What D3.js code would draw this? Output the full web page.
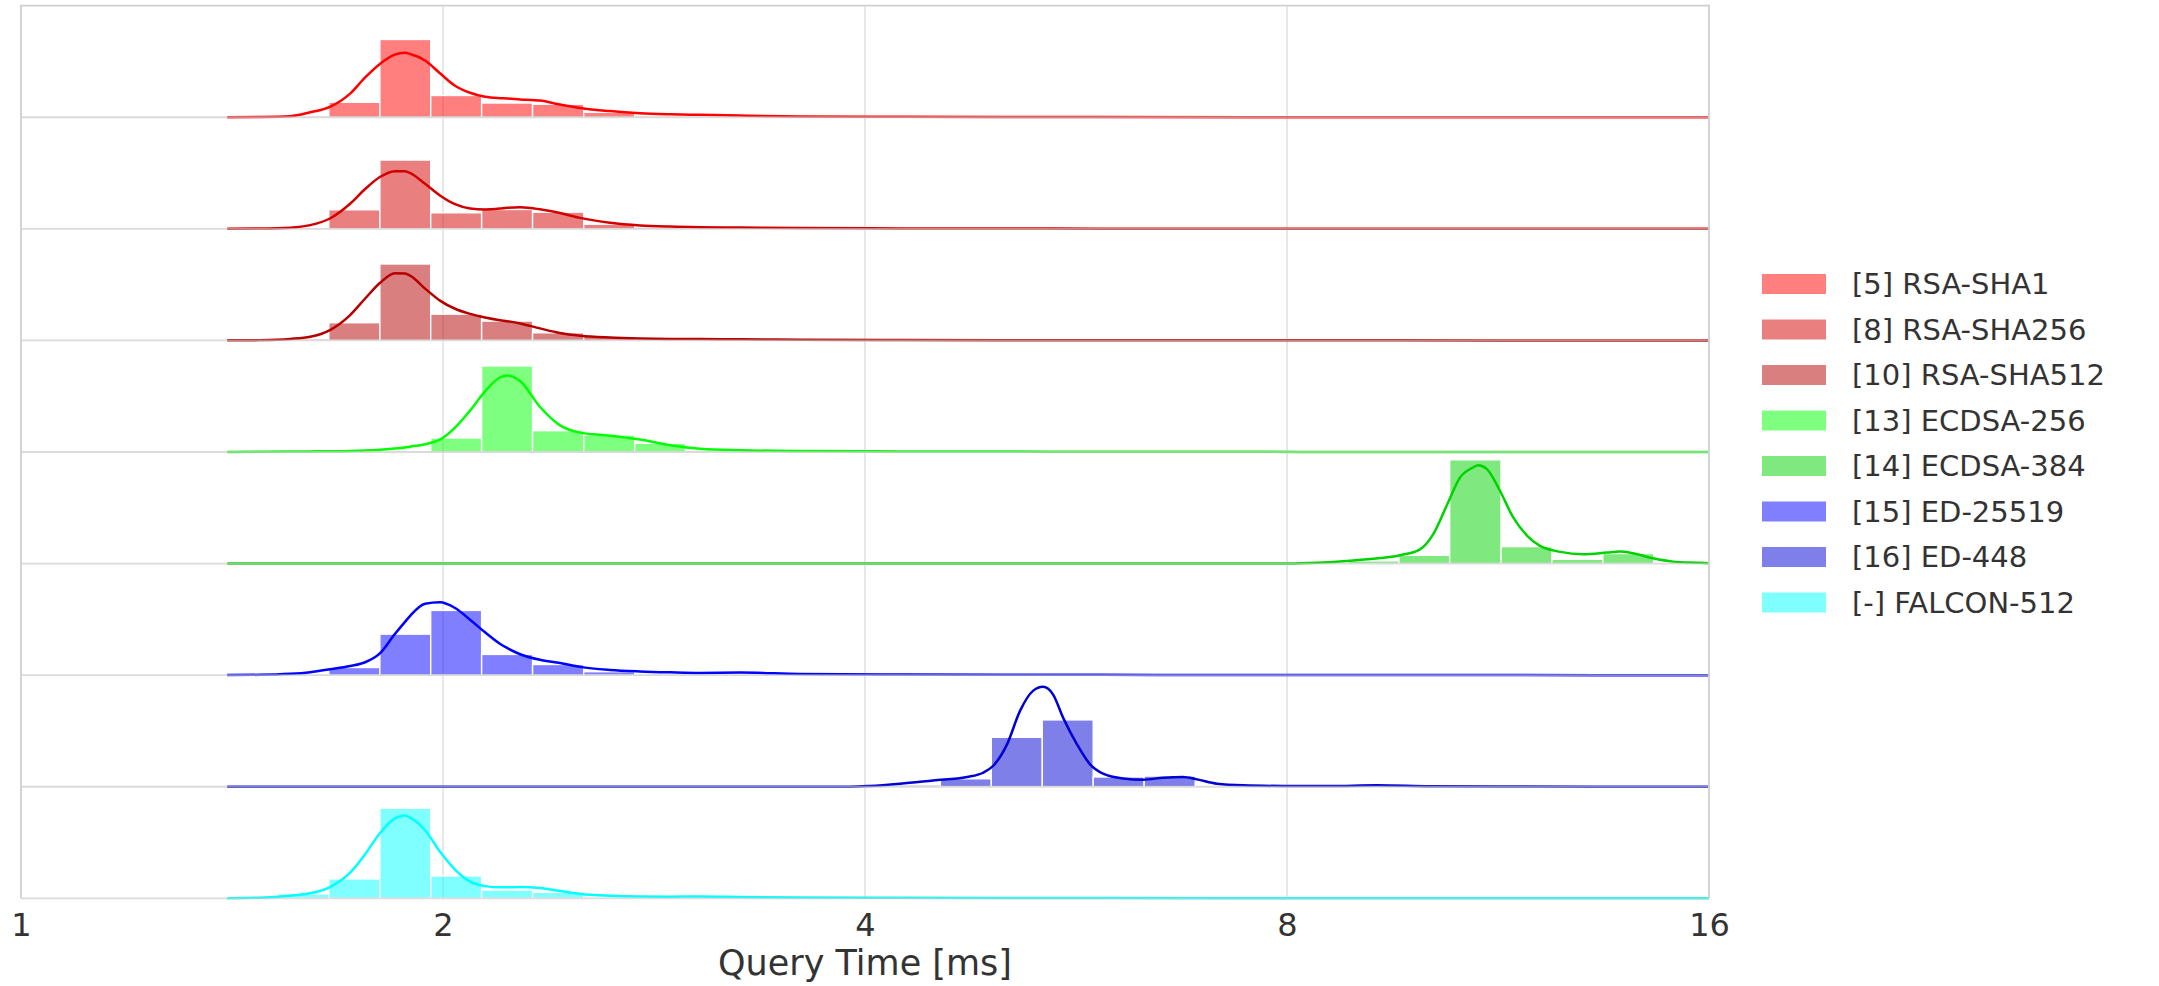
<!DOCTYPE html>
<html>
<head>
<meta charset="utf-8">
<script src="https://cdn.jsdelivr.net/npm/d3@7/dist/d3.min.js"></script>
<style>
  body { margin: 0; background: #fff; }
  svg { display: block; font-family: 'DejaVu Sans', sans-serif; }
</style>
</head>
<body>
<div class="ridge-chart-container"></div>
<script>
// series, top row first
const labels = ['[5] RSA-SHA1', '[8] RSA-SHA256', '[10] RSA-SHA512', '[13] ECDSA-256',
  '[14] ECDSA-384', '[15] ED-25519', '[16] ED-448', '[-] FALCON-512'];
const colors = ['#ff0000', '#d30000', '#b60000', '#00ff00', '#00d300', '#0000ff', '#0000d3', '#00ffff'];

const xTicks = [1, 2, 4, 8, 16];
const xLabel = 'Query Time [ms]';

// shared histogram bins (ms, log spaced)
const binEdges = [1.403, 1.525, 1.658, 1.803, 1.960, 2.131, 2.317, 2.520, 2.740, 2.979,
  3.239, 3.522, 3.829, 4.163, 4.527, 4.922, 5.352, 5.819, 6.327, 6.880,
  7.480, 8.133, 8.843, 9.615, 10.45, 11.37, 12.36, 13.44, 14.61, 15.89];

// histogram heights, percent of queries per bin
const rsaSha1Pct = [0.2, 1, 10, 51.8, 14.5, 9.5, 8.7, 3.3, 1, 0.4, 0.3, 0.2, 0.1, 0, 0, 0, 0, 0, 0, 0, 0, 0, 0, 0, 0, 0, 0, 0, 0];
const rsaSha256Pct = [0.2, 0.9, 12.7, 45.8, 10.7, 12.9, 11.1, 3.1, 1.1, 0.5, 0.4, 0.3, 0.2, 0, 0, 0, 0, 0, 0, 0, 0, 0, 0, 0, 0, 0, 0, 0, 0];
const rsaSha512Pct = [0.2, 1.1, 11.8, 50.9, 17.5, 12.9, 5.1, 2.7, 1, 0.5, 0.4, 0.3, 0.2, 0, 0, 0, 0, 0, 0, 0, 0, 0, 0, 0, 0, 0, 0, 0, 0];
const ecdsa256Pct = [0, 0.1, 0.2, 0.3, 9.3, 57.3, 14.2, 11.3, 5.8, 1, 0.5, 0.3, 0.2, 0, 0, 0, 0, 0, 0, 0, 0, 0, 0, 0, 0, 0, 0, 0, 0];
const ecdsa384Pct = [0, 0, 0, 0, 0, 0, 0, 0, 0, 0, 0, 0, 0, 0, 0, 0, 0, 0, 0, 0, 0.2, 0.5, 1.8, 5.5, 69.1, 11.3, 2.9, 6.7, 0.5];
const ed25519Pct = [0.1, 0.5, 5.1, 27.3, 43.1, 13.8, 7.1, 2.3, 0.8, 0.5, 0.4, 0.3, 0.3, 0.2, 0, 0, 0, 0, 0, 0, 0, 0, 0, 0, 0, 0, 0, 0, 0];
const ed448Pct = [0, 0, 0, 0, 0, 0, 0, 0, 0, 0, 0, 0, 0.3, 1.1, 5.3, 32.9, 44.5, 6.5, 7.1, 0.7, 0.4, 0.3, 0.2, 0.2, 0, 0, 0, 0, 0];
const falconPct = [0.3, 2.9, 12.9, 60, 14.9, 5.5, 4, 1, 0.5, 0.4, 0.3, 0.2, 0, 0, 0, 0, 0, 0, 0, 0, 0, 0, 0, 0, 0, 0, 0, 0, 0];

// density curves (ms, percent)
const kdeGridMs = [1.403, 1.481, 1.556, 1.608, 1.661, 1.717, 1.760, 1.803, 1.848, 1.879, 1.895, 1.942,
  1.990, 2.040, 2.091, 2.143, 2.196, 2.222, 2.270, 2.345, 2.424, 2.505, 2.631, 2.764, 2.904, 3.050,
  3.258, 3.595, 4.237, 4.993, 5.885, 8.173, 11.35, 16];
const rsaSha1Kde = [0.07, 0.2, 0.7, 3.3, 6.9, 15.7, 26.5, 35.5, 41.7, 42.9, 42.1, 37.8, 29.3, 21, 16.3, 13.6, 12.7,
  12.5, 11.9, 11.1, 8.5, 6.2, 4.1, 2.7, 2, 1.6, 1.1, 0.5, 0.3, 0.2, 0.13, 0.07, 0.03, 0];
const rsaSha256Kde = [0.07, 0.2, 0.8, 2.5, 6.9, 16.7, 26.5, 34.5, 38.4, 38.3, 37.1, 30, 22.2, 16.4, 13.5, 12.9, 13.5,
  14, 14.3, 13, 10.5, 7.3, 4.1, 2.3, 1.5, 1.1, 0.9, 0.5, 0.3, 0.2, 0.13, 0.07, 0.03, 0];
const rsaSha512Kde = [0.07, 0.2, 1, 2.4, 6.9, 16.9, 27.9, 38.2, 44.7, 44.6, 43.1, 34.5, 26.5, 21.1, 17.7, 15.3, 13.5,
  12.8, 11.3, 8, 4.9, 3.1, 1.9, 1.3, 1, 0.9, 0.7, 0.5, 0.3, 0.2, 0.13, 0.07, 0.03, 0];
const ecdsa256Kde = [0.07, 0.13, 0.27, 0.4, 0.53, 0.73, 1.07, 1.53, 2.33, 3, 3.53, 5.2, 8.2, 16.2, 27.6, 40.4, 49.6,
  51, 47.3, 30.1, 17.7, 12.9, 10.9, 8.3, 4.5, 2.2, 1.2, 0.67, 0.4, 0.27, 0.2, 0.07, 0.03, 0];
const ed25519Kde = [0.07, 0.2, 0.87, 2, 3.9, 6.1, 8.6, 14.5, 27.4, 35.5, 39.5, 47.5, 48.5, 44.7, 36.9, 28.5, 20.9,
  18.1, 13.9, 10.2, 8.1, 5.5, 3.5, 2.5, 1.9, 1.5, 1.7, 0.8, 0.4, 0.27, 0.2, 0.07, 0.03, 0];
const falconKde = [0.07, 0.4, 1.7, 3.3, 7.5, 17.1, 29.4, 43.3, 53.2, 55.1, 53.7, 45.3, 31.1, 19.1, 11.1, 8.1, 7.3,
  7.3, 7.5, 6.9, 4.8, 2.9, 1.7, 1.2, 1.1, 1.2, 0.9, 0.5, 0.3, 0.2, 0.13, 0.07, 0.03, 0];

const ecdsa384KdeMs = [1.403, 7.909, 8.173, 8.628, 9.124, 9.632, 9.953, 10.17, 10.41, 10.63, 10.86, 10.95, 11.11,
  11.35, 11.60, 11.87, 12.12, 12.53, 13.01, 13.53, 13.82, 14.12, 14.59, 15.08, 15.76, 16];
const ecdsa384Kde = [0, 0, 0.2, 1.1, 2.9, 5.5, 9.5, 19.5, 39.5, 57.3, 64, 65.5, 62.9,
  48.5, 30.7, 18.5, 11.8, 7.8, 6.2, 7.3, 8, 6.9, 3.5, 1.3, 0.5, 0.2];

const ed448KdeMs = [1.403, 3.903, 4.033, 4.237, 4.473, 4.730, 4.856, 4.936, 5.051, 5.160, 5.271, 5.359, 5.447,
  5.538, 5.666, 5.789, 5.914, 6.111, 6.315, 6.526, 6.744, 6.901, 7.131, 7.443, 7.948, 8.585, 9.274, 10.12, 11.35, 16];
const ed448Kde = [0, 0, 0.5, 2, 4.2, 6.5, 9.3, 13.8, 28.2, 50.5, 63.8, 66.5, 61.5,
  46, 28.2, 14.9, 8.7, 5.5, 4.7, 6, 6.5, 4.9, 2, 0.9, 0.5, 0.4, 1, 0.3, 0.1, 0];

const rows = [
  { hist: rsaSha1Pct, kdeX: kdeGridMs, kdeY: rsaSha1Kde },
  { hist: rsaSha256Pct, kdeX: kdeGridMs, kdeY: rsaSha256Kde },
  { hist: rsaSha512Pct, kdeX: kdeGridMs, kdeY: rsaSha512Kde },
  { hist: ecdsa256Pct, kdeX: kdeGridMs, kdeY: ecdsa256Kde },
  { hist: ecdsa384Pct, kdeX: ecdsa384KdeMs, kdeY: ecdsa384Kde },
  { hist: ed25519Pct, kdeX: kdeGridMs, kdeY: ed25519Kde },
  { hist: ed448Pct, kdeX: ed448KdeMs, kdeY: ed448Kde },
  { hist: falconPct, kdeX: kdeGridMs, kdeY: falconKde }
];

const width = 2159, height = 986;
const plot = { left: 21, right: 1709, top: 5.7, bottom: 898.3 };
const rowH = (plot.bottom - plot.top) / rows.length;

const svg = d3.select('.ridge-chart-container')
  .append('svg')
  .attr('width', width)
  .attr('height', height);

const x = d3.scaleLog().base(2)
  .domain([xTicks[0], xTicks[xTicks.length - 1]])
  .range([plot.left, plot.right]);

// all rows share one y scale
const yMax = d3.max(rows, r => Math.max(d3.max(r.hist), d3.max(r.kdeY))) * 1.075;
const y = d3.scaleLinear().domain([0, yMax]).range([rowH, 0]);

// vertical grid
svg.append('g')
  .selectAll('line')
  .data(xTicks.slice(1, -1))
  .enter().append('line')
  .attr('x1', d => x(d)).attr('x2', d => x(d))
  .attr('y1', plot.top).attr('y2', plot.bottom)
  .attr('stroke', '#dcdcdc')
  .attr('stroke-width', 1.3);

const line = d3.line()
  .x(d => x(d[0]))
  .y(d => y(d[1]))
  .curve(d3.curveMonotoneX);

rows.forEach((row, i) => {
  const g = svg.append('g')
    .attr('transform', 'translate(0,' + (plot.top + i * rowH) + ')');

  const bins = row.hist
    .map((v, k) => ({ x0: binEdges[k], x1: binEdges[k + 1], v }))
    .filter(b => b.v > 0);

  g.selectAll('rect')
    .data(bins)
    .enter().append('rect')
    .attr('x', d => x(d.x0))
    .attr('width', d => x(d.x1) - x(d.x0))
    .attr('y', d => y(d.v))
    .attr('height', d => y(0) - y(d.v))
    .attr('fill', colors[i])
    .attr('fill-opacity', 0.5)
    .attr('stroke', '#fff')
    .attr('stroke-width', 1.4);

  g.append('path')
    .datum(row.kdeX.map((v, k) => [v, row.kdeY[k]]))
    .attr('fill', 'none')
    .attr('stroke', colors[i])
    .attr('stroke-width', 2.5)
    .attr('d', line);

  // bottom spine of this row, drawn over the line like matplotlib does
  g.append('line')
    .attr('x1', plot.left).attr('x2', plot.right)
    .attr('y1', rowH).attr('y2', rowH)
    .attr('stroke', '#c8c8c8')
    .attr('stroke-opacity', 0.65)
    .attr('stroke-width', 1.8);
});

// outer spines
svg.append('path')
  .attr('d', 'M' + plot.left + ',' + plot.bottom + 'V' + plot.top + 'H' + plot.right + 'V' + plot.bottom)
  .attr('fill', 'none')
  .attr('stroke', '#d0d0d0')
  .attr('stroke-width', 1.8);

// x axis labels
const xAxis = d3.axisBottom(x)
  .tickValues(xTicks)
  .tickFormat(d3.format('d'))
  .tickSize(0)
  .tickPadding(15);

const axisG = svg.append('g')
  .attr('transform', 'translate(0,' + plot.bottom + ')')
  .call(xAxis);
axisG.select('.domain').remove();
axisG.selectAll('text')
  .attr('fill', '#333')
  .style('font-size', '32px')
  .style('font-family', "'DejaVu Sans', sans-serif");

svg.append('text')
  .attr('x', (plot.left + plot.right) / 2)
  .attr('y', 975)
  .attr('text-anchor', 'middle')
  .attr('fill', '#333')
  .style('font-size', '35px')
  .text(xLabel);

// legend
const legend = svg.append('g')
  .attr('transform', 'translate(1762,284)');

const item = legend.selectAll('.legend')
  .data(labels)
  .enter().append('g')
  .attr('class', 'legend')
  .attr('transform', (_d, i) => 'translate(0,' + i * 45.5 + ')');

item.append('rect')
  .attr('x', 0).attr('y', -10)
  .attr('width', 64).attr('height', 20)
  .attr('fill', (_d, i) => colors[i])
  .attr('fill-opacity', 0.5);

item.append('text')
  .attr('x', 90)
  .attr('dy', '0.35em')
  .attr('fill', '#333')
  .style('font-size', '29px')
  .text(d => d);
</script>
</body>
</html>
